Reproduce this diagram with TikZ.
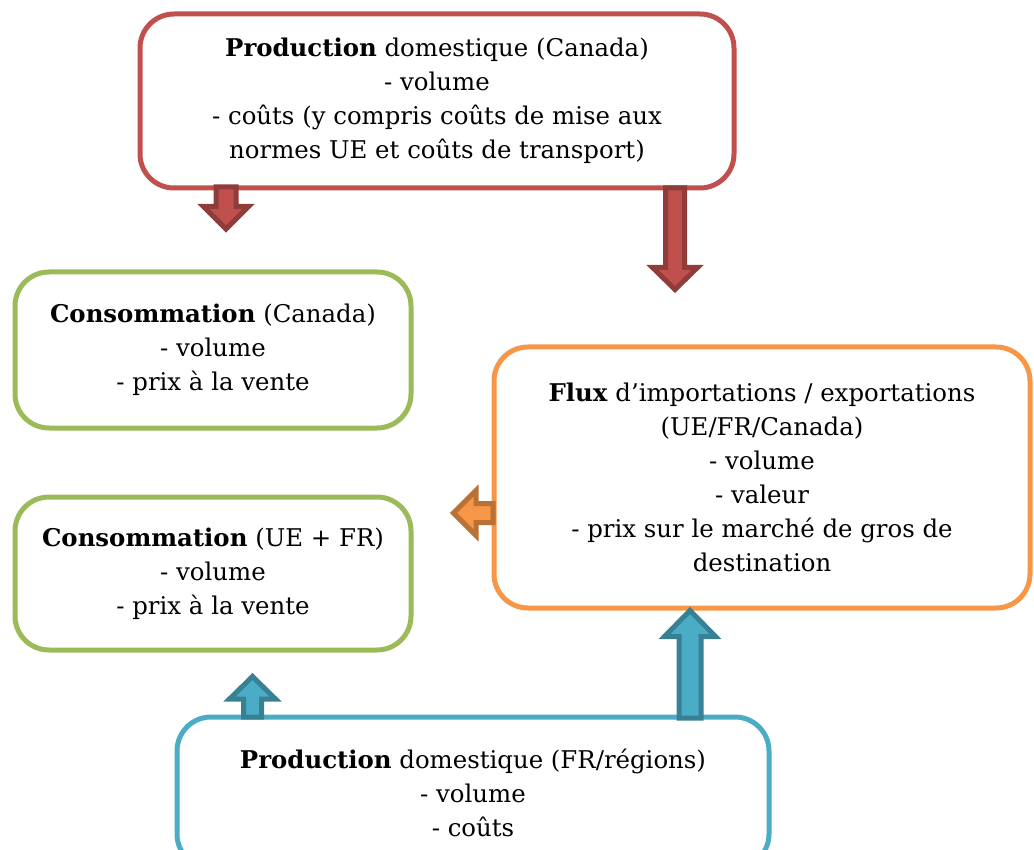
\documentclass[tikz,border=0pt]{standalone}
\usepackage{fontspec}
\setmainfont{DejaVu Serif}
\usetikzlibrary{calc, positioning}
\definecolor{boxred}{HTML}{C0504D}
\definecolor{boxgreen}{HTML}{9BBB59}
\definecolor{boxorange}{HTML}{F79646}
\definecolor{boxblue}{HTML}{4BACC6}
\colorlet{darkred}{boxred!75!black}
\colorlet{darkorange}{boxorange!75!black}
\colorlet{darkblue}{boxblue!75!black}

% block arrow: style, start, angle, length, shaft half, head half, head length
\newcommand{\blockarrow}[7]{%
  \draw[#1, shift={(#2)}, rotate=#3] (0,-#5) -- ({#4-#7},-#5) -- ({#4-#7},-#6) -- (#4,0)
    -- ({#4-#7},#6) -- ({#4-#7},#5) -- (0,#5) -- cycle;}

\begin{document}
\begin{tikzpicture}[x=0.5pt, y=-0.5pt,
    box/.style={draw, line width=2.5pt, rounded corners=17pt, align=center, outer sep=0pt,
      inner sep=0pt, font=\fontsize{12.2}{17}\selectfont},
    redbox/.style={box, draw=boxred}, greenbox/.style={box, draw=boxgreen},
    orangebox/.style={box, draw=boxorange}, bluebox/.style={box, draw=boxblue},
    redarrow/.style={fill=boxred, draw=darkred, line width=2.5pt, line join=miter},
    orangearrow/.style={fill=boxorange, draw=darkorange, line width=2.5pt, line join=miter},
    bluearrow/.style={fill=boxblue, draw=darkblue, line width=2.5pt, line join=miter}]
  \clip (0,0) rectangle (1034,850);

  \node[redbox, minimum width=297pt, minimum height=87pt] (prodca) at (437,101)
    {\textbf{Production} domestique (Canada)\\- volume\\- coûts (y compris coûts de mise aux\\normes UE et coûts de transport)};

  \node[greenbox, minimum width=198pt, minimum height=78pt] (consca) at (213,350)
    {\textbf{Consommation} (Canada)\\- volume\\- prix à la vente};

  \node[greenbox, minimum width=198pt, minimum height=76.5pt] (consue) at (213,573.5)
    {\textbf{Consommation} (UE + FR)\\- volume\\- prix à la vente};

  \node[orangebox, minimum width=268pt, minimum height=130.5pt] (flux) at (762,477.5)
    {\textbf{Flux} d’importations / exportations\\(UE/FR/Canada)\\- volume\\- valeur\\- prix sur le marché de gros de\\destination};

  \node[bluebox, minimum width=296pt, minimum height=75.5pt] (prodfr) at (473,792.5)
    {\textbf{Production} domestique (FR/régions)\\- volume\\- coûts};

  % arrow starts
  \coordinate (ca1) at ($(prodca.south west)+(86,-1)$);
  \coordinate (ca2) at ($(prodca.south west)+(535,0)$);
  \coordinate (fx1) at ($(flux.west)+(-1,35.5)$);
  \coordinate (fr1) at ($(prodfr.north west)+(75.5,0)$);
  \coordinate (fr2) at ($(prodfr.north west)+(513,1)$);

  \blockarrow{redarrow}{ca1}{270}{42}{10}{22.5}{22.5}
  \blockarrow{redarrow}{ca2}{270}{101.5}{9.5}{22.5}{22}
  \blockarrow{orangearrow}{fx1}{180}{39.5}{9.5}{22.5}{22.5}
  \blockarrow{bluearrow}{fr1}{90}{40.5}{9}{23}{22.5}
  \blockarrow{bluearrow}{fr2}{90}{107.5}{11}{25.5}{26}
\end{tikzpicture}
\end{document}
